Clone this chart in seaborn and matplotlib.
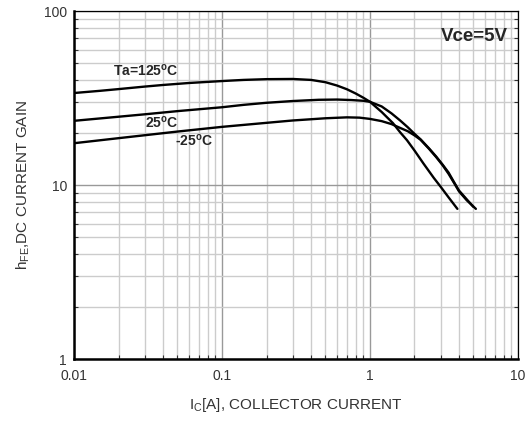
import numpy as np
import pandas as pd
import seaborn as sns
import matplotlib.pyplot as plt
from matplotlib.ticker import LogLocator, FixedLocator, NullFormatter

# collector current [A] and DC current gain
ic_125 = [0.01, 0.015, 0.02, 0.03, 0.04, 0.06, 0.1, 0.14, 0.2, 0.3, 0.4, 0.5, 0.6, 0.7,
          0.8, 0.9, 1.0, 1.2, 1.43, 1.6, 1.78, 2.0, 2.3, 2.7, 3.0, 3.4, 3.9]
hfe_125 = [33.8, 34.8, 35.6, 36.8, 37.6, 38.6, 39.6, 40.2, 40.6, 40.7, 40.2, 39.0, 37.3, 35.5,
           33.6, 31.8, 30.1, 26.3, 22.7, 20.1, 18.1, 15.8, 13.3, 11.0, 9.8, 8.5, 7.3]

ic_25 = [0.01, 0.02, 0.03, 0.05, 0.1, 0.14, 0.2, 0.3, 0.45, 0.6, 0.75, 0.9, 1.0, 1.2, 1.4,
         1.6, 1.8, 2.0, 2.2, 2.5, 2.8, 3.1, 3.4, 3.7, 4.0, 4.5, 5.0]
hfe_25 = [23.4, 24.7, 25.5, 26.6, 28.0, 28.9, 29.7, 30.4, 30.9, 31.0, 30.8, 30.5, 30.1, 28.3, 25.8,
          23.5, 21.5, 19.7, 18.3, 16.3, 14.6, 13.1, 11.8, 10.4, 9.3, 8.3, 7.5]

ic_m25 = [0.01, 0.02, 0.05, 0.1, 0.18, 0.3, 0.5, 0.7, 0.85, 1.0, 1.2, 1.4, 1.6, 1.8,
          2.0, 2.2, 2.5, 2.8, 3.1, 3.4, 3.7, 4.0, 4.5, 5.2]
hfe_m25 = [17.4, 18.6, 20.3, 21.6, 22.6, 23.5, 24.2, 24.5, 24.4, 24.0, 23.3, 22.4, 21.3, 20.4,
           19.3, 18.2, 16.2, 14.5, 13.0, 11.6, 10.3, 9.2, 8.2, 7.3]

x_ticks = [0.01, 0.1, 1, 10]
x_ticklabels = ['0.01', '0.1', '1', '10']
y_ticks = [1, 10, 100]
y_ticklabels = ['1', '10', '100']

sns.set_style('white')
plt.rcParams['font.family'] = ['Liberation Sans', 'DejaVu Sans']
plt.rcParams['mathtext.fontset'] = 'custom'
plt.rcParams['mathtext.rm'] = 'Liberation Sans'
plt.rcParams['mathtext.bf'] = 'Liberation Sans:bold'

fig = plt.figure(figsize=(5.29, 4.24), dpi=100)
ax = fig.add_axes([0.140, 0.153, 0.839, 0.821])

for ic, hfe in [(ic_125, hfe_125), (ic_25, hfe_25), (ic_m25, hfe_m25)]:
    df = pd.DataFrame({'ic': ic, 'hfe': hfe})
    sns.lineplot(data=df, x='ic', y='hfe', ax=ax, color='black', linewidth=1.7, sort=False)

ax.set_xscale('log')
ax.set_yscale('log')
ax.set_xlim(0.01, 10)
ax.set_ylim(1, 100)

# grid: light minor lines, darker decade lines
ax.xaxis.set_major_locator(FixedLocator(x_ticks))
ax.yaxis.set_major_locator(FixedLocator(y_ticks))
ax.xaxis.set_minor_locator(LogLocator(base=10, subs=np.arange(2, 10)))
ax.yaxis.set_minor_locator(LogLocator(base=10, subs=np.arange(2, 10)))
ax.xaxis.set_minor_formatter(NullFormatter())
ax.yaxis.set_minor_formatter(NullFormatter())
ax.set_xticklabels(x_ticklabels)
ax.set_yticklabels(y_ticklabels)
ax.grid(which='minor', color='#cccccc', linewidth=1.0)
ax.grid(which='major', color='#999999', linewidth=1.0)
ax.set_axisbelow(True)

ax.tick_params(which='both', direction='in', left=True, right=True, bottom=True, top=False,
               labelsize=10, labelcolor='#333333', color='#333333')
ax.tick_params(which='major', length=0)
ax.tick_params(axis='x', which='major', pad=7)
ax.tick_params(axis='y', which='major', pad=5)
ax.tick_params(which='minor', length=3, width=0.8)

for side in ['left', 'bottom']:
    ax.spines[side].set_linewidth(1.8)
    ax.spines[side].set_color('black')
for side in ['top', 'right']:
    ax.spines[side].set_linewidth(0.9)
    ax.spines[side].set_color('black')

ax.set_xlabel(r'I$_\mathregular{C}$[A], COLLECTOR CURRENT', fontsize=11, color='#333333')
ax.xaxis.set_label_coords(0.5, -0.105)
ax.set_ylabel(r'h$_\mathregular{FE}$,DC CURRENT GAIN', fontsize=11, color='#333333')
ax.yaxis.set_label_coords(-0.094, 0.5)

deg = r'$^\mathregular{o}$'
ax.text(0.0183, 45.2, 'Ta=125' + deg + 'C', fontsize=10, fontweight='bold', ha='left', va='center')
ax.text(0.0302, 23.0, '25' + deg + 'C', fontsize=10, fontweight='bold', ha='left', va='center')
ax.text(0.0482, 17.9, '-25' + deg + 'C', fontsize=10, fontweight='bold', ha='left', va='center')
ax.text(0.977, 0.952, 'Vce=5V', transform=ax.transAxes, fontsize=13.5, fontweight='bold',
        ha='right', va='top')

fig.savefig('out.png', dpi=100)
